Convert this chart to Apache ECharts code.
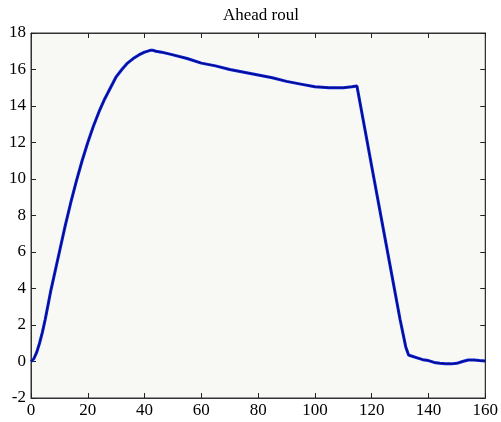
<!DOCTYPE html>
<html>
<head>
<meta charset="utf-8">
<script src="https://cdn.jsdelivr.net/npm/echarts@6/dist/echarts.min.js"></script>
<style>
html,body{margin:0;padding:0;background:#fff;}
#main{width:501px;height:422px;}
</style>
</head>
<body>
<div id="main"></div>
<script>
// 数据
var titleText = 'Ahead roul';
var xs = [0,1,2,3,4,5,6,7,8,9,10,12,14,16,18,20,22,24,26,28,30,32,34,36,38,40,42,43,44,46,50,55,60,65,70,75,80,85,90,95,100,105,110,113,114.8,118,120,125,130,132,133,134,136,138,140,142,144,146,148,150,152,154,156,158,160];
var ys = [0,0.15,0.5,1.0,1.6,2.3,3.1,3.9,4.6,5.3,6.0,7.4,8.7,9.9,11.0,12.0,12.9,13.7,14.4,15.0,15.6,16.0,16.35,16.6,16.8,16.95,17.05,17.05,17.0,16.95,16.8,16.6,16.35,16.2,16.0,15.85,15.7,15.55,15.35,15.2,15.05,15.0,15.0,15.05,15.1,12.4,10.7,6.5,2.3,0.8,0.35,0.3,0.2,0.1,0.05,-0.05,-0.1,-0.12,-0.13,-0.1,0,0.08,0.08,0.05,0.03];
var xTicks = [0,20,40,60,80,100,120,140,160];
var yTicks = [-2,0,2,4,6,8,10,12,14,16,18];

var pts = xs.map(function(x, i){ return [x, ys[i]]; });
var font = 'Liberation Serif';

function axisBase(showLabel){
    return {
        type: 'value',
        axisLine: {show: true, onZero: false, lineStyle: {color: '#333', width: 1}},
        axisTick: {show: true, inside: true, length: 5, lineStyle: {color: '#222', width: 1}},
        splitLine: {show: false},
        axisLabel: {show: showLabel, color: '#000', fontFamily: font, fontSize: 17}
    };
}

var xBottom = axisBase(true);
xBottom.min = 0; xBottom.max = 160; xBottom.interval = 20; xBottom.position = 'bottom';
xBottom.axisLabel.margin = 4;
var xTop = axisBase(false);
xTop.min = 0; xTop.max = 160; xTop.interval = 20; xTop.position = 'top';
var yLeft = axisBase(true);
yLeft.min = -2; yLeft.max = 18; yLeft.interval = 2; yLeft.position = 'left';
yLeft.axisLabel.margin = 5;
var yRight = axisBase(false);
yRight.min = -2; yRight.max = 18; yRight.interval = 2; yRight.position = 'right';

var option = {
    backgroundColor: '#fff',
    animation: false,
    title: {
        text: titleText,
        left: 256, top: 2, textAlign: 'center',
        textStyle: {fontFamily: font, fontSize: 17, fontWeight: 'normal', color: '#000'}
    },
    grid: {
        left: 31, right: 15, top: 33, bottom: 24,
        show: true, backgroundColor: '#f8f8f5', borderColor: '#333', borderWidth: 1
    },
    xAxis: [xBottom, xTop],
    yAxis: [yLeft, yRight],
    series: [
        {
            type: 'line', data: pts, showSymbol: false,
            lineStyle: {color: '#0a1ed2', width: 3}
        },
        {
            type: 'line', data: pts, showSymbol: false,
            lineStyle: {color: '#000050', width: 1, opacity: 0.7}
        }
    ]
};
var myChart = echarts.init(document.getElementById('main'));
myChart.setOption(option);
</script>
</body>
</html>
